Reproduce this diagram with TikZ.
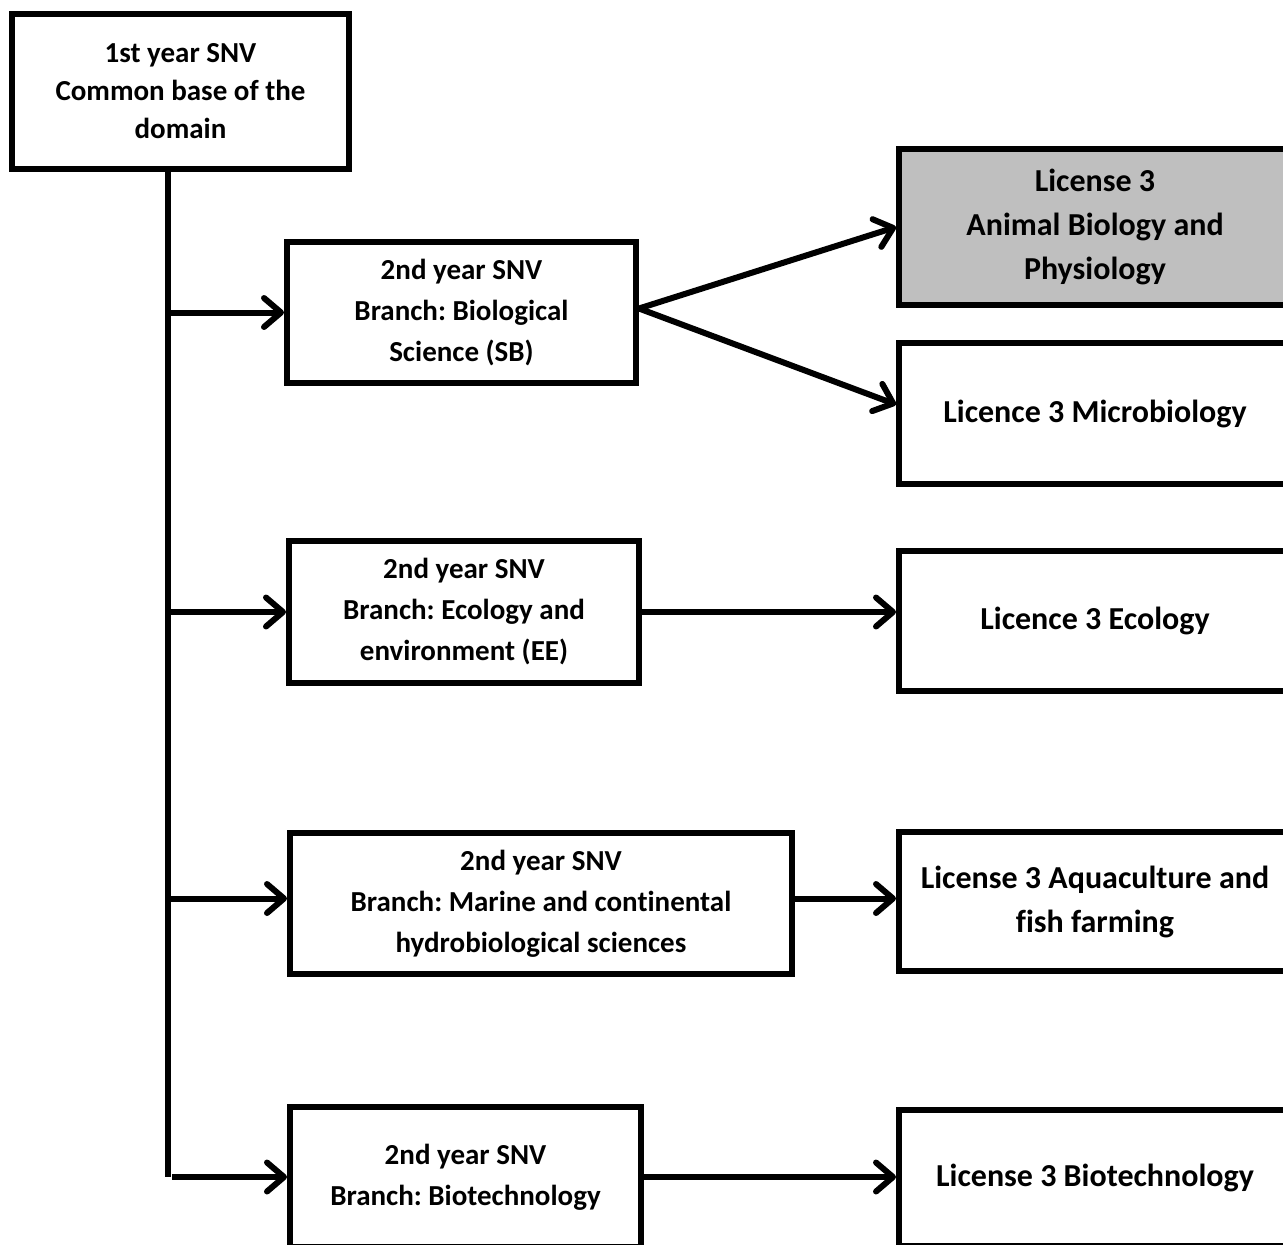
\documentclass[tikz,border=0pt]{standalone}
\usepackage{fontspec}
\setmainfont{Carlito}[Ligatures=NoCommon]
\usetikzlibrary{arrows.meta}
\definecolor{boxgray}{HTML}{BFBFBF}
\frenchspacing
\begin{document}
\begin{tikzpicture}
	[x=1pt,y=-1pt,
	box/.style={draw,line width=6pt,align=center,inner sep=0pt,font=\fontsize{29}{41}\selectfont\bfseries},
	licence/.style={box,minimum width=392pt,font=\fontsize{32}{44}\selectfont\bfseries},
	link/.style={line width=6pt},
	>={Straight Barb[length=17pt,width=29pt,line cap=round,line join=round]}]
\useasboundingbox (0,0) rectangle (1283,1245);
\clip (0,0) rectangle (1283,1245);
% first year and the second year branches
\node[box,font=\fontsize{29}{38}\selectfont\bfseries,minimum width=337pt,minimum height=155pt] (year1) at (180.5,91.5) {1st year SNV\\Common base of the\\domain};
\node[box,minimum width=349pt,minimum height=141pt] (sb) at (461.5,312.5) {2nd year SNV\\Branch: Biological\\Science (SB)};
\node[box,minimum width=350pt,minimum height=142pt] (ee) at (464,612) {2nd year SNV\\Branch: Ecology and\\environment (EE)};
\node[box,minimum width=502pt,minimum height=141pt] (marine) at (541,903.5) {2nd year SNV\\Branch: Marine and continental\\hydrobiological sciences};
\node[box,minimum width=351pt,minimum height=140pt] (bt) at (465.5,1177) {2nd year SNV\\Branch: Biotechnology};
% third year licences
\node[licence,fill=boxgray,minimum height=156pt] (animal) at (1095,227) {License 3\\Animal Biology and\\Physiology};
\node[licence,minimum height=141pt] (micro) at (1095,413.5) {Licence 3 Microbiology};
\node[licence,minimum height=140pt] (eco) at (1095,621) {Licence 3 Ecology};
\node[licence,minimum height=139pt] (aqua) at (1095,901.5) {License 3 Aquaculture and\\fish farming};
\node[licence,minimum height=136pt] (btl3) at (1095,1178) {License 3 Biotechnology};
\coordinate (trunk) at (168,169);
\draw[link] (trunk) -- (trunk |- bt.west);
\draw[link,->] ([xshift=4pt]trunk |- bt.west) -- (bt.west);
\draw[link,->] (trunk |- sb.west) -- (sb.west);
\draw[link,->] (trunk |- ee.west) -- (ee.west);
\draw[link,->] ([yshift=5pt]trunk |- marine.west) -- ([yshift=5pt]marine.west);
\draw[link,->] ([yshift=4pt]sb.east) -- (animal.west);
\draw[link,->] ([yshift=4pt]sb.east) -- ([yshift=9pt]micro.west);
\draw[link,->] (ee.east) -- (ee.east -| eco.west);
\draw[link,->] ([yshift=5pt]marine.east) -- ([yshift=5pt]marine.east -| aqua.west);
\draw[link,->] (bt.east) -- (bt.east -| btl3.west);
\end{tikzpicture}
\end{document}
